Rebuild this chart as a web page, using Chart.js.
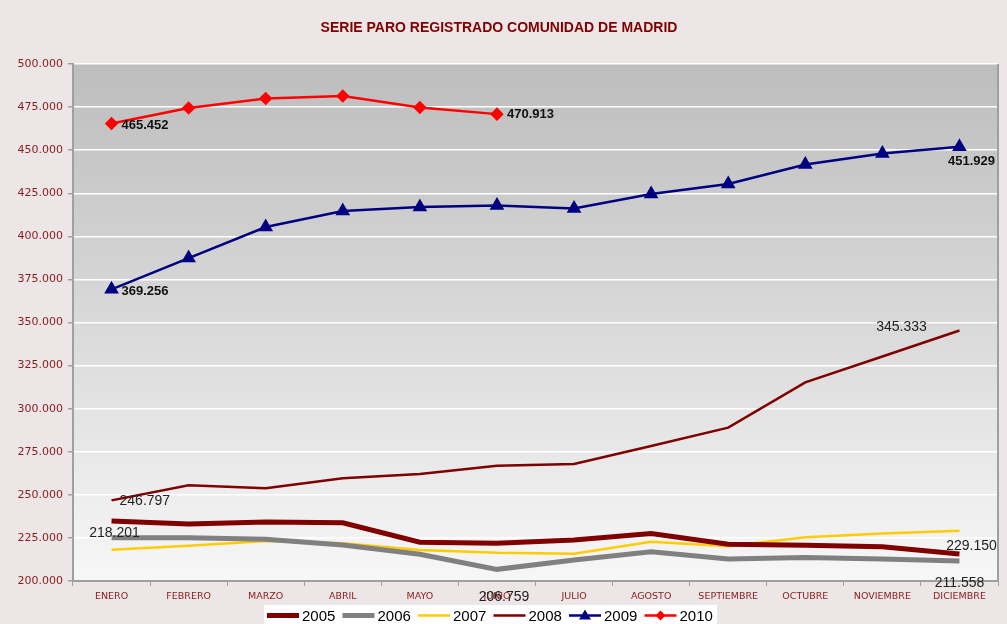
<!DOCTYPE html>
<html>
<head>
<meta charset="utf-8">
<script src="https://cdn.jsdelivr.net/npm/chart.js@4/dist/chart.umd.min.js"></script>
<style>
  html, body { margin: 0; padding: 0; background: #ECE6E6; }
  #wrap { width: 1007px; height: 624px; }
</style>
</head>
<body>
<div id="wrap"><canvas id="paroChart" width="1007" height="624"></canvas></div>
<script>
// datos (personas en paro registrado)
const meses = ['ENERO', 'FEBRERO', 'MARZO', 'ABRIL', 'MAYO', 'JUNIO', 'JULIO', 'AGOSTO', 'SEPTIEMBRE', 'OCTUBRE', 'NOVIEMBRE', 'DICIEMBRE'];
const paro2005 = [234800, 233100, 234200, 233800, 222500, 221900, 223800, 227600, 221300, 220700, 219900, 215700];
const paro2006 = [225100, 225100, 224200, 220900, 215500, 206759, 212200, 217000, 212800, 213700, 212800, 211558];
const paro2007 = [218201, 220500, 223200, 221900, 218000, 216400, 215800, 222800, 220100, 225400, 227500, 229150];
const paro2008 = [246797, 255500, 253800, 259600, 262100, 266900, 267900, 278300, 289000, 315300, 330300, 345333];
const paro2009 = [369256, 387400, 405400, 414700, 417000, 417900, 416200, 424600, 430400, 441700, 448100, 451929];
const paro2010 = [465452, 474500, 480000, 481400, 474800, 470913];
const yTicks = [200000, 500000, 25000]; // min, max, paso

const fmt = v => (v / 1000).toFixed(3);

// fondo del area de trazado + borde derecho
const plotBg = {
    id: 'plotBg',
    beforeDraw(chart) {
        const {ctx, chartArea: a} = chart;
        ctx.save();
        const g = ctx.createLinearGradient(0, a.top, 0, a.bottom);
        g.addColorStop(0, '#BDBDBD');
        g.addColorStop(0.55, '#DCDCDC');
        g.addColorStop(1, '#F7F7F7');
        ctx.fillStyle = g;
        ctx.fillRect(a.left, a.top, a.right - a.left, a.bottom - a.top);
        ctx.restore();
    },
    afterDatasetsDraw(chart) {
        const {ctx, chartArea: a} = chart;
        ctx.save();
        ctx.strokeStyle = '#A0A0A0';
        ctx.lineWidth = 2;
        ctx.beginPath();
        ctx.moveTo(a.right, a.top);
        ctx.lineTo(a.right, a.bottom);
        ctx.stroke();
        ctx.restore();
    }
};

// etiquetas de valor en puntos concretos
const valueLabels = {
    id: 'valueLabels',
    afterDraw(chart) {
        const ctx = chart.ctx;
        chart.data.datasets.forEach((ds, i) => {
            if (!ds.tags) return;
            const meta = chart.getDatasetMeta(i);
            ds.tags.forEach(t => {
                const pt = meta.data[t.i];
                ctx.save();
                ctx.font = ds.tagBold ? 'bold 13px "Liberation Sans", Arial' : '14px "Liberation Sans", Arial';
                ctx.fillStyle = ds.tagBold ? '#111' : '#222';
                ctx.textAlign = t.align || 'left';
                ctx.textBaseline = 'middle';
                ctx.fillText(fmt(ds.data[t.i]), pt.x + t.dx, pt.y + t.dy);
                ctx.restore();
            });
        });
    }
};

// leyenda inferior en caja blanca
const bottomLegend = {
    id: 'bottomLegend',
    afterDraw(chart) {
        const ctx = chart.ctx;
        ctx.save();
        ctx.fillStyle = '#FFFFFF';
        ctx.fillRect(264, 605, 453, 19);
        let x = 267;
        const y = 615.5;
        chart.data.datasets.forEach(ds => {
            ctx.strokeStyle = ds.borderColor;
            ctx.lineWidth = ds.borderWidth;
            ctx.beginPath();
            ctx.moveTo(x, y);
            ctx.lineTo(x + 32, y);
            ctx.stroke();
            if (ds.pointStyle === 'triangle') {
                ctx.fillStyle = ds.borderColor;
                ctx.beginPath();
                ctx.moveTo(x + 16, y - 6);
                ctx.lineTo(x + 22, y + 4);
                ctx.lineTo(x + 10, y + 4);
                ctx.closePath();
                ctx.fill();
            } else if (ds.pointStyle === 'rectRot') {
                ctx.fillStyle = ds.borderColor;
                ctx.beginPath();
                ctx.moveTo(x + 16, y - 5);
                ctx.lineTo(x + 21, y);
                ctx.lineTo(x + 16, y + 5);
                ctx.lineTo(x + 11, y);
                ctx.closePath();
                ctx.fill();
            }
            ctx.fillStyle = '#000';
            ctx.font = '15px "Liberation Sans", Arial';
            ctx.textBaseline = 'middle';
            ctx.fillText(ds.label, x + 35, y + 1);
            x += 75.5;
        });
        ctx.restore();
    }
};

const ctx = document.getElementById('paroChart');

new Chart(ctx, {
    type: 'line',
    data: {
        labels: meses,
        datasets: [
            {
                label: '2005', data: paro2005, borderColor: '#800000', borderWidth: 5,
                pointRadius: 0, tension: 0
            },
            {
                label: '2006', data: paro2006, borderColor: '#808080', borderWidth: 5,
                pointRadius: 0, tension: 0,
                tags: [{i: 5, dx: 7, dy: 28, align: 'center'}, {i: 11, dx: 0, dy: 22, align: 'center'}]
            },
            {
                label: '2007', data: paro2007, borderColor: '#FFCC00', borderWidth: 2.5,
                pointRadius: 0, tension: 0,
                tags: [{i: 0, dx: 3, dy: -16, align: 'center'}, {i: 11, dx: 12, dy: 15, align: 'center'}]
            },
            {
                label: '2008', data: paro2008, borderColor: '#800000', borderWidth: 2.5,
                pointRadius: 0, tension: 0,
                tags: [{i: 0, dx: 8, dy: 1}, {i: 11, dx: -58, dy: -3, align: 'center'}]
            },
            {
                label: '2009', data: paro2009, borderColor: '#000080', backgroundColor: '#000080',
                borderWidth: 2.5, pointStyle: 'triangle', pointRadius: 6, tension: 0,
                tagBold: true,
                tags: [{i: 0, dx: 10, dy: 2}, {i: 11, dx: 12, dy: 15, align: 'center'}]
            },
            {
                label: '2010', data: paro2010, borderColor: '#FF0000', backgroundColor: '#FF0000',
                borderWidth: 2.5, pointStyle: 'rectRot', pointRadius: 5, tension: 0,
                tagBold: true,
                tags: [{i: 0, dx: 10, dy: 2}, {i: 5, dx: 10, dy: 0}]
            }
        ]
    },
    options: {
        responsive: false,
        animation: false,
        layout: {
            padding: { left: 0, right: 9, bottom: 0 }
        },
        scales: {
            x: {
                offset: true,
                afterFit: axis => { axis.height = 43; },
                grid: {
                    drawOnChartArea: false,
                    tickColor: '#A0A0A0',
                    tickLength: 5,
                    offset: true
                },
                border: { color: '#A0A0A0', width: 2 },
                ticks: {
                    color: '#8B1A1A',
                    font: { family: '"DejaVu Sans", Verdana', size: 9.5 },
                    padding: 5,
                    maxRotation: 0,
                    autoSkip: false
                }
            },
            y: {
                min: yTicks[0],
                max: yTicks[1],
                afterFit: axis => { axis.width = 73; },
                grid: {
                    color: '#FFFFFF',
                    lineWidth: 1.5,
                    tickColor: '#A0A0A0',
                    tickLength: 5
                },
                border: { color: '#A0A0A0', width: 2 },
                ticks: {
                    stepSize: yTicks[2],
                    color: '#8B1A1A',
                    font: { family: '"DejaVu Sans", Verdana', size: 11 },
                    padding: 5,
                    callback: v => fmt(v)
                }
            }
        },
        plugins: {
            legend: { display: false },
            tooltip: { enabled: false },
            title: {
                display: true,
                text: 'SERIE PARO REGISTRADO COMUNIDAD DE MADRID',
                color: '#800000',
                font: { family: '"Liberation Sans", Arial', size: 14, weight: 'bold' },
                padding: { top: 20, bottom: 27.2 }
            }
        }
    },
    plugins: [plotBg, valueLabels, bottomLegend]
});
</script>
</body>
</html>
